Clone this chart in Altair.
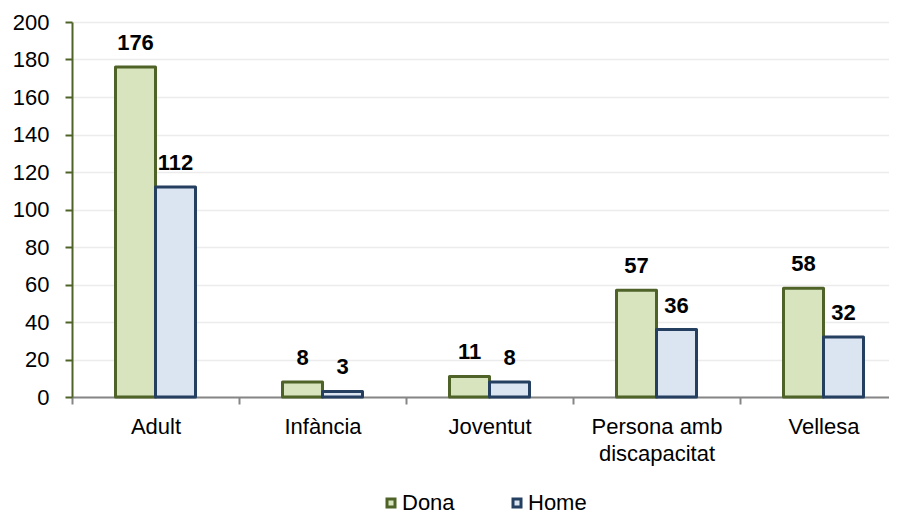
import altair as alt
import pandas as pd

categories = ["Adult", "Infància", "Joventut", "Persona amb discapacitat", "Vellesa"]
dona = [176, 8, 11, 57, 58]
home = [112, 3, 8, 36, 32]
series = ["Dona", "Home"]
fills = ["#d7e4bd", "#dbe5f1"]
strokes = ["#4f6228", "#243f60"]
y_ticks = list(range(0, 201, 20))

rows = []
for c, d, h in zip(categories, dona, home):
    rows.append({"cat": c, "serie": "Dona", "val": d})
    rows.append({"cat": c, "serie": "Home", "val": h})
df = pd.DataFrame(rows)

FONT = "Liberation Sans"

x_enc = alt.X(
    "cat:N",
    sort=categories,
    title=None,
    scale=alt.Scale(range=[0, 835], paddingInner=0, paddingOuter=0),
    axis=alt.Axis(
        labelAngle=0,
        labelFont=FONT,
        labelFontSize=22,
        labelColor="#000000",
        labelPadding=12,
        labelLineHeight=27,
        labelExpr="datum.value == 'Persona amb discapacitat' ? ['Persona amb', 'discapacitat'] : datum.value",
        domainColor="#868686",
        domainWidth=2,
        tickColor="#868686",
        tickWidth=2,
        tickSize=7,
        tickBand="extent",
        grid=False,
    ),
)
xo_enc = alt.XOffset("serie:N", sort=series, scale=alt.Scale(range=[43.5, 123.5], paddingInner=0, paddingOuter=0))
y_enc = alt.Y(
    "val:Q",
    title=None,
    scale=alt.Scale(domain=[0, 200], nice=False),
    axis=alt.Axis(
        values=y_ticks,
        labelOverlap=False,
        labelFont=FONT,
        labelFontSize=22,
        labelColor="#000000",
        labelPadding=16,
        domainColor="#4f6228",
        domainWidth=2,
        tickColor="#4f6228",
        tickWidth=2,
        tickSize=7,
        grid=True,
        gridColor="#ececec",
        gridWidth=1.5,
    ),
)

bars = alt.Chart(df).mark_bar(strokeWidth=3, strokeJoin="round").encode(
    x=x_enc,
    xOffset=xo_enc,
    y=y_enc,
    fill=alt.Fill("serie:N", sort=series, scale=alt.Scale(domain=series, range=fills), title=None),
    stroke=alt.Stroke("serie:N", sort=series, scale=alt.Scale(domain=series, range=strokes), title=None),
)

labels = alt.Chart(df).mark_text(
    font=FONT, fontSize=22, fontWeight="bold", color="#000000", baseline="alphabetic", dy=-17
).encode(
    x=x_enc,
    xOffset=xo_enc,
    y=y_enc,
    text=alt.Text("val:Q"),
)

chart = (
    alt.layer(bars, labels)
    .properties(
        width=817,
        height=375,
        autosize=alt.AutoSizeParams(type="none"),
        padding={"left": 64, "top": 14, "right": 0, "bottom": 119},
    )
    .configure_view(stroke=None)
    .configure_legend(
        orient="none",
        legendX=308,
        legendY=470,
        direction="horizontal",
        symbolType="square",
        symbolSize=64,
        symbolStrokeWidth=3,
        labelFont=FONT,
        labelFontSize=22,
        labelColor="#000000",
        labelOffset=0,
        columnPadding=51,
        padding=0,
    )
)

chart.save("out.html", embed_options={"renderer": "svg", "actions": False})
